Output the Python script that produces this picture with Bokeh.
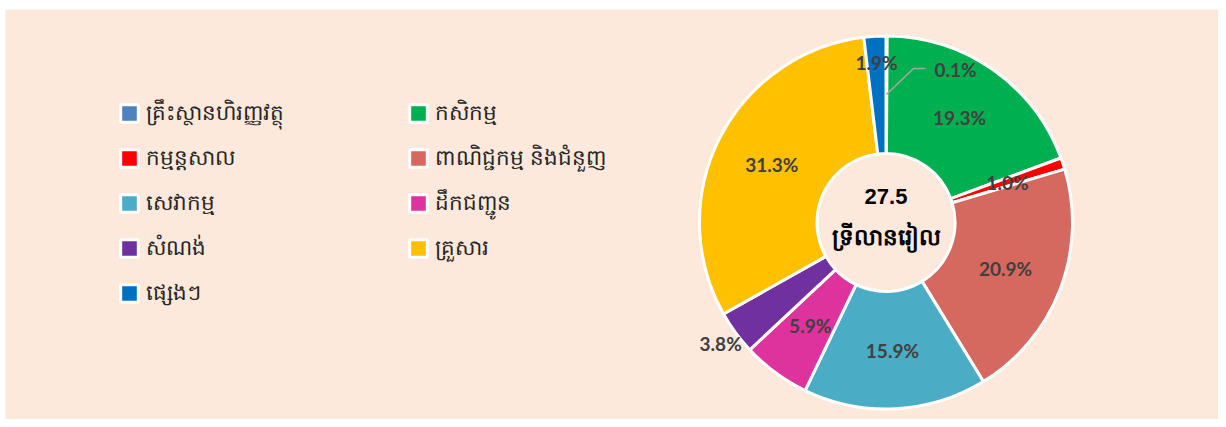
import numpy as np
from bokeh.plotting import figure
from bokeh.models import ColumnDataSource, Legend, LegendItem, Range1d
from bokeh.embed import file_html
from bokeh.resources import INLINE
from bokeh.core.properties import value

# ---------------- data ----------------
categories = ["គ្រឹះស្ថានហិរញ្ញវត្ថុ", "កសិកម្ម", "កម្មន្តសាល", "ពាណិជ្ជកម្ម និងជំនួញ",
              "សេវាកម្ម", "ដឹកជញ្ជូន", "សំណង់", "គ្រួសារ", "ផ្សេងៗ"]
shares = [0.1, 19.3, 1.0, 20.9, 15.9, 5.9, 3.8, 31.3, 1.9]
colors = ["#4F81BD", "#00B050", "#FF0000", "#D6695F", "#4BACC6",
          "#DE329D", "#7030A0", "#FFC000", "#0070C0"]
total_value = "27.5"
total_unit = "ទ្រីលានរៀល"

# ---------------- layout ----------------
W, H = 1218, 419
ML, MT = 5, 9            # white strip left / top
FW, FH = W - ML, H - MT  # frame size (1:1 data units)
BG = "#FCE9DB"


def px(X):   # page x -> data x
    return X - ML


def py(Y):   # page y -> data y
    return H - Y


cx, cy = px(885.5), py(222.0)
r_out, r_in = 186.5, 69.0
r_lab = 128.0
label_r_override = {8: 160.0, 6: 205.0}

vals = np.array(shares, dtype=float)
frac = vals / vals.sum()
cum = np.concatenate([[0.0], np.cumsum(frac)])
start = np.pi / 2 - 2 * np.pi * cum[:-1]
end = np.pi / 2 - 2 * np.pi * cum[1:]
mid = (start + end) / 2

lx, ly = [], []
for i, m in enumerate(mid):
    rr = label_r_override.get(i, r_lab)
    lx.append(cx + rr * np.cos(m))
    ly.append(cy + rr * np.sin(m))

# 0.1% label sits outside with a leader line
lx[0], ly[0] = cx + 69.5, cy + 153.0
lead_x = [cx + r_lab * np.cos(mid[0]), lx[0] - 42, lx[0] - 30]
lead_y = [cy + r_lab * np.sin(mid[0]), ly[0] + 1, ly[0] + 1]

src = ColumnDataSource(dict(cat=categories, start=start, end=end, color=colors,
                            lx=lx, ly=ly, lab=[f"{v:.1f}%" for v in shares]))

p = figure(width=W, height=H, x_range=Range1d(0, FW), y_range=Range1d(0, FH),
           output_backend="svg", toolbar_location=None,
           min_border_left=ML, min_border_top=MT, min_border_right=0, min_border_bottom=0,
           x_axis_type=None, y_axis_type=None,
           background_fill_color=BG, border_fill_color="white", outline_line_color=None)
p.grid.visible = False

wr = p.annular_wedge(x=cx, y=cy, inner_radius=r_in, outer_radius=r_out,
                     start_angle="start", end_angle="end", direction="clock",
                     fill_color="color", line_color="white", line_width=3, source=src)

p.line(lead_x, lead_y, line_color="#A6A6A6", line_width=1.5)

p.text(x="lx", y="ly", text="lab", source=src, text_align="center", text_baseline="middle",
       text_font=value("Lato"), text_font_style="bold", text_font_size="19px",
       text_color="#404040")

p.text(x=[cx], y=[cy + 26], text=[total_value], text_align="center", text_baseline="middle",
       text_font=value("Liberation Sans"), text_font_style="bold", text_font_size="22px",
       text_color="#000000")
p.text(x=[cx], y=[cy - 13], text=[total_unit], text_align="center", text_baseline="middle",
       text_font=value("Noto Sans"), text_font_style="bold", text_font_size="23px",
       text_color="#000000")

# legend: 2 columns, row-major
legend = Legend(items=[LegendItem(label=c, renderers=[wr], index=i) for i, c in enumerate(categories)],
                orientation="horizontal", ncols=2,
                glyph_width=22, glyph_height=22, label_standoff=6,
                label_text_font_size="21.5px", label_text_font="Noto Sans",
                label_text_color="#262626", label_width=250, label_height=34,
                spacing=11, padding=0, margin=0,
                border_line_alpha=0, background_fill_alpha=0,
                location=(px(118), py(310)))
p.add_layout(legend)

open("out.html", "w").write(file_html(p, INLINE))
